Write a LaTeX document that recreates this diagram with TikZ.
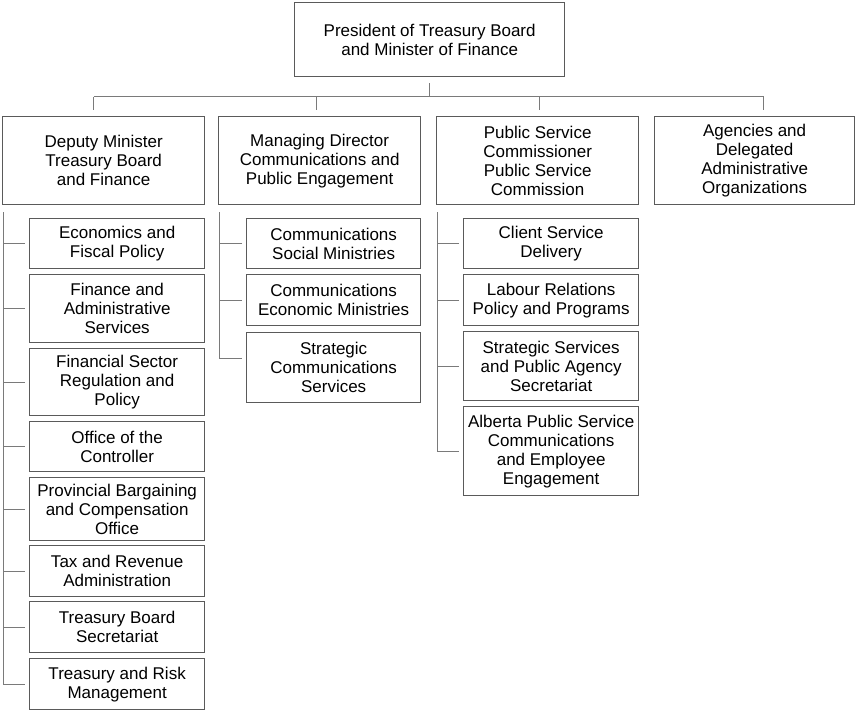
\documentclass[tikz,border=0pt]{standalone}
\usepackage{fontspec}
\setmainfont{Liberation Sans}
\definecolor{boxgray}{HTML}{5A5A5A}
\definecolor{linegray}{HTML}{7A7A7A}
\tikzset{
    orgbox/.style={draw=boxgray, line width=1.3pt, anchor=north west, inner sep=0pt,
        align=center, font=\fontsize{17}{19}\selectfont},
    link/.style={draw=linegray, line width=1pt}
}
\pgfmathsetmacro{\unitwidth}{175}

\begin{document}
\begin{tikzpicture}[x=1pt, y=-1pt]
            \useasboundingbox (0,0) rectangle (855,711);
            \node[orgbox, minimum width=270, minimum height=74] (pres) at (294,2)
                {President of Treasury Board\\and Minister of Finance};
            \foreach \n/\x/\w/\lbl in {dm/2/202/{Deputy Minister\\Treasury Board\\and Finance},
                md/218/202/{Managing Director\\Communications and\\Public Engagement},
                psc/436/202/{Public Service\\Commissioner\\Public Service\\Commission},
                ag/654/200/{Agencies and\\Delegated\\Administrative\\Organizations}}{
                \node[orgbox, minimum width=\w, minimum height=88] (\n) at (\x,116) {\lbl};
            }
            \foreach \n/\dx in {dm/-10,md/-3,psc/2,ag/9}{
                \draw[link] ([xshift=\dx pt, yshift=6pt]\n.north) -- ++(0,-13) coordinate (d\n);
            }
            \draw[link] (ddm) -- (dag);
            \draw[link] ([yshift=-6pt]pres.south) -- (pres.south |- ddm);
            \foreach \n/\y/\h/\lbl in {efp/218/50/{Economics and\\Fiscal Policy},
                fas/274/68/{Finance and\\Administrative\\Services},
                fsr/348/67/{Financial Sector\\Regulation and\\Policy},
                oc/421/50/{Office of the\\Controller},
                pbc/477/63/{Provincial Bargaining\\and Compensation\\Office},
                tra/545/51/{Tax and Revenue\\Administration},
                tbs/601/51/{Treasury Board\\Secretariat},
                trm/658/51/{Treasury and Risk\\Management}}{
                \node[orgbox, minimum width=\unitwidth, minimum height=\h] (\n) at (29,\y) {\lbl};
            }
            \foreach \n/\y/\h/\lbl in {csm/218/50/{Communications\\Social Ministries},
                cem/274/51/{Communications\\Economic Ministries},
                scs/332/70/{Strategic\\Communications\\Services}}{
                \node[orgbox, minimum width=\unitwidth-1, minimum height=\h] (\n) at (246,\y) {\lbl};
            }
            \foreach \n/\y/\h/\lbl in {csd/218/50/{Client Service\\Delivery},
                lrp/274/51/{Labour Relations\\Policy and Programs},
                sspa/331/69/{Strategic Services\\and Public Agency\\Secretariat},
                apsc/406/89/{Alberta Public Service\\Communications\\and Employee\\Engagement}}{
                \node[orgbox, minimum width=\unitwidth, minimum height=\h] (\n) at (463,\y) {\lbl};
            }
            \foreach \n in {efp,fas,fsr,oc,pbc,tra,tbs,csm,cem,csd,lrp,sspa}{
                \draw[link] ([xshift=-4pt]\n.west) -- ++(-22,0);
            }
            \draw[link] ([shift={(1,7)}]dm.south west) |- ([xshift=-4pt]trm.west);
            \draw[link] ([shift={(1,7)}]md.south west) |- ([shift={(-4pt,9pt)}]scs.west);
            \draw[link] ([shift={(1,7)}]psc.south west) |- ([xshift=-4pt]apsc.west);
        \end{tikzpicture}
\end{document}
